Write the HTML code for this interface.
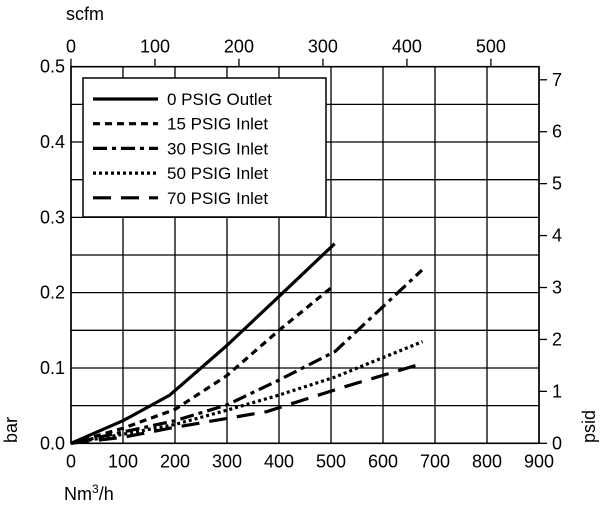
<!DOCTYPE html>
<html><head><meta charset="utf-8"><style>
html,body{margin:0;padding:0;background:#fff;}
svg{display:block;font-family:"Liberation Sans",sans-serif;}
</style></head><body>
<svg id="chart" width="600" height="510" viewBox="0 0 600 510" xmlns="http://www.w3.org/2000/svg">
<g id="grid"></g>
<g id="series"></g>
<g id="axes"></g>
<rect x="83" y="78" width="243" height="139" fill="#fff" stroke="#000" stroke-width="1.5"/>
<g id="legend"></g>
<text x="66" y="20" font-size="18">scfm</text>
<text x="64" y="500" font-size="18">Nm<tspan font-size="12" dy="-7">3</tspan><tspan dy="7">/h</tspan></text>
<text transform="translate(17,443) rotate(-90)" font-size="18">bar</text>
<text transform="translate(595,443) rotate(-90)" font-size="18">psid</text>
</svg>
<script>
const xTicks=[0,100,200,300,400,500,600,700,800,900];
const yTicks=[0.0,0.1,0.2,0.3,0.4,0.5];
const yGrid=[0,0.05,0.1,0.15,0.2,0.25,0.3,0.35,0.4,0.45,0.5];
const scfmTicks=[0,100,200,300,400,500];
const psidTicks=[0,1,2,3,4,5,6,7];
const seriesNames=["0 PSIG Outlet","15 PSIG Inlet","30 PSIG Inlet","50 PSIG Inlet","70 PSIG Inlet"];
const s0=[[0,0],[100,0.03],[190,0.064],[300,0.13],[400,0.195],[507,0.265]];
const s15=[[0,0],[100,0.02],[200,0.045],[300,0.09],[400,0.15],[503,0.208]];
const s30=[[0,0],[100,0.015],[200,0.03],[300,0.051],[400,0.084],[508,0.122],[675,0.23]];
const s50=[[0,0],[100,0.012],[200,0.025],[300,0.044],[400,0.064],[508,0.088],[676,0.135]];
const s70=[[0,0],[100,0.008],[190,0.02],[376,0.042],[526,0.075],[676,0.106]];
const seriesData=[s0,s15,s30,s50,s70];
const dashes=["none","7 5","14 5 4 5","3 3","18 10"];
const X0=71,X1=539,Y0=443.3,Y1=66.7;
const xs=v=>X0+v/900*(X1-X0);
const ys=v=>Y0-v/0.5*(Y0-Y1);
const SCFM=1.615;
const PSI=0.0689476;
const NS="http://www.w3.org/2000/svg";
function mk(tag,attrs,parent){const e=document.createElementNS(NS,tag);for(const k in attrs)e.setAttribute(k,attrs[k]);parent.appendChild(e);return e;}
const grid=document.getElementById('grid'),axes=document.getElementById('axes'),ser=document.getElementById('series'),leg=document.getElementById('legend');
xTicks.forEach(t=>{
  const l=mk('line',{x1:xs(t),x2:xs(t),y1:Y1,y2:Y0,stroke:'#000','stroke-width':1.3},grid);
  
  
  const tx=mk('text',{x:xs(t),y:Y0+24,'font-size':18,'text-anchor':'middle'},axes);
  tx.textContent=t;
  
  
});
yGrid.forEach(t=>{
  const l=mk('line',{x1:X0,x2:X1,y1:ys(t),y2:ys(t),stroke:'#000','stroke-width':1.3},grid);
  
  
});
yTicks.forEach(t=>{
  const tx=mk('text',{x:X0-6,y:ys(t)+6,'font-size':18,'text-anchor':'end'},axes);
  tx.textContent=t.toFixed(1);
  
  
});
scfmTicks.forEach(t=>{
  const x=xs(t*SCFM);
  const l=mk('line',{x1:x,x2:x,y1:Y1,y2:Y1-8,stroke:'#000','stroke-width':1.3},axes);
  
  
  const tx=mk('text',{x:x,y:Y1-14,'font-size':18,'text-anchor':'middle'},axes);
  tx.textContent=t;
  
  
});
psidTicks.forEach(t=>{
  const y=ys(t*PSI);
  const l=mk('line',{x1:X1,x2:X1+8,y1:y,y2:y,stroke:'#000','stroke-width':1.3},axes);
  
  
  const tx=mk('text',{x:X1+13,y:y+6,'font-size':18},axes);
  tx.textContent=t;
  
  
});
const frame=mk('rect',{x:X0,y:Y1,width:X1-X0,height:Y0-Y1,fill:'none',stroke:'#000','stroke-width':1.6},axes);


seriesData.forEach((d,i)=>{
  const p=mk('polyline',{points:d.map(q=>xs(q[0])+','+ys(q[1])).join(' '),fill:'none',stroke:'#000','stroke-width':3.2,'stroke-dasharray':dashes[i],'stroke-linejoin':'round'},ser);
  
  
});
seriesNames.forEach((n,i)=>{
  const y=99+i*24.7;
  const l=mk('line',{x1:93,x2:158,y1:y,y2:y,stroke:'#000','stroke-width':3.2,'stroke-dasharray':dashes[i]},leg);
  
  
  const tx=mk('text',{x:167,y:y+6,'font-size':17},leg);
  tx.textContent=n;
  
  
});
</script>
</body></html>
